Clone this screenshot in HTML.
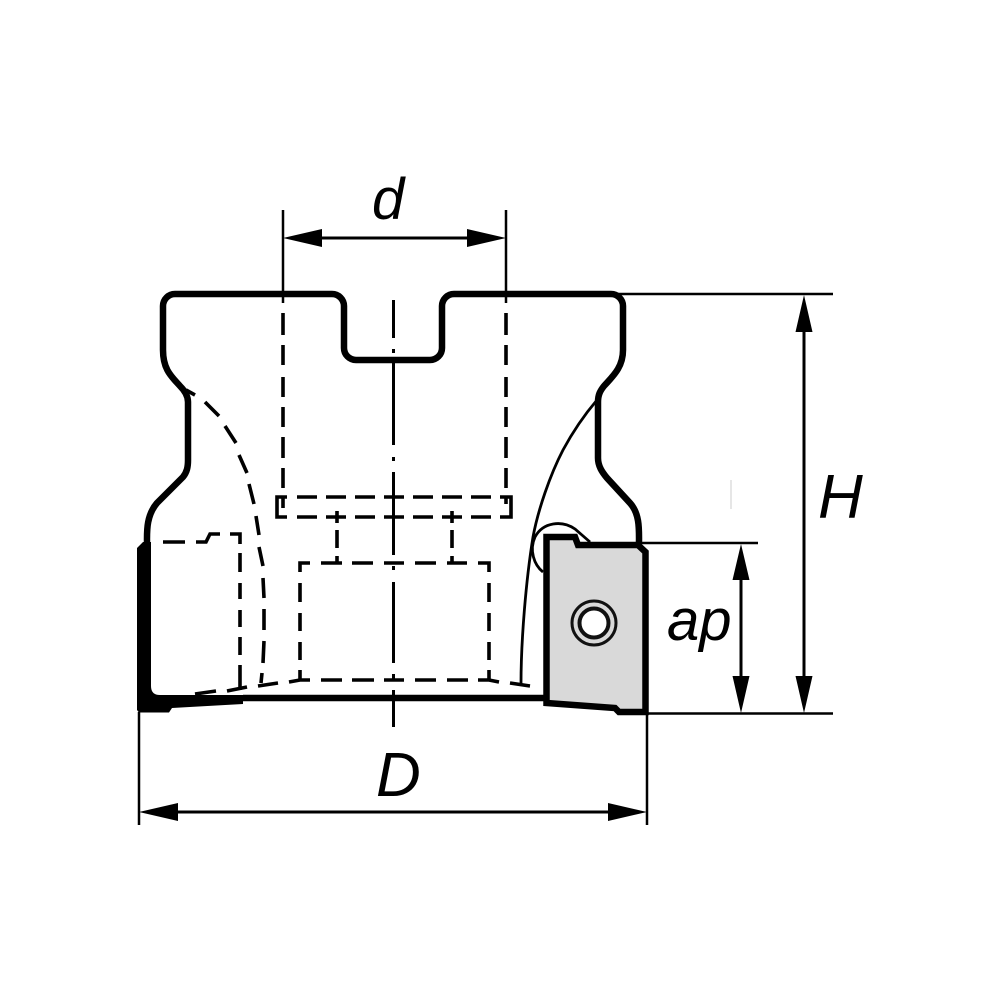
<!DOCTYPE html>
<html><head><meta charset="utf-8"><style>
html,body{margin:0;padding:0;background:#fff}
svg{display:block}
text{font-family:"Liberation Sans",sans-serif;font-style:italic;fill:#000}
</style></head><body>
<svg width="1000" height="1000" viewBox="0 0 1000 1000" xmlns="http://www.w3.org/2000/svg">
<rect width="1000" height="1000" fill="#fff"/>
<!-- insert -->
<path d="M546.500 537H575L578 545H638L645.500 552V712H619L615 708L546.500 703Z" fill="#d9d9d9" stroke="#000" stroke-width="6.500" stroke-linejoin="miter"/>
<circle cx="594" cy="623" r="22" fill="none" stroke="#111" stroke-width="3"/>
<circle cx="594" cy="623" r="14.500" fill="#fff" stroke="#111" stroke-width="4"/>
<!-- outline -->
<g fill="none" stroke="#000" stroke-width="6.500" stroke-linecap="round" stroke-linejoin="round">
<path d="M147 543C147 532 146 516 157 503L183 477C187 472 188 467 188 460V402C188 396 185 391 180 386C172 377 163 370 163 350V306A12 12 0 0 1 175 294H332A12 12 0 0 1 344 306V348A12 12 0 0 0 356 360H430A12 12 0 0 0 442 348V306A12 12 0 0 1 454 294H611A12 12 0 0 1 623 306V350C623 368 612 377 604 386C600 391 598 395 598 402V458C598 466 602 472 607 478L630 503C640 514 639 530 639 543"/>
<path d="M243 698H545" stroke-linecap="butt"/>
</g>
<!-- left black insert -->
<path d="M137 548L143 542H151V686Q151 695 160 695H243V704L172 708L169 712.500H139L137 710Z" fill="#000"/>
<!-- thin curves -->
<g fill="none" stroke="#000" stroke-width="2.800">
<path d="M597 400C580 420 570 437 563 450C550 475 538 510 533 537C526 580 521 640 521 684"/>
<path d="M543 572C534 565 529 550 535 537C543 522 562 520 575 529L590 542"/>
</g>
<!-- dashed -->
<g fill="none" stroke="#000" stroke-width="3.600">
<path d="M283 313V335M283 345V365M283 377V397M283 407V427M283 437V458M283 468V488M283 498V508"/>
<path d="M506 313V335M506 345V365M506 377V397M506 407V427M506 437V458M506 468V488M506 498V504"/>
<path d="M287 497H277V517H287M297 497H317M326 497H346M355 497H375M384 497H404M413 497H433M442 497H462M471 497H491M500 497H511V517H500M297 517H317M326 517H346M355 517H375M384 517H404M413 517H433M442 517H462M471 517H491"/>
<path d="M337 511V523M337 530V548M337 556V563M452 511V523M452 530V548M452 556V563"/>
<path d="M310 563H300V572M300 583V602M300 613V631M300 642V660M300 670V680M321 563H342M352 563H373M384 563H404M415 563H436M447 563H467M478 563H489V572M489 583V602M489 613V631M489 642V660M489 670V680"/>
<path d="M289 682L300 680H310M321 680H342M352 680H374M384 680H404M415 680H436M447 680H468M478 680H489L499 682M510 683L530 686"/>
<path d="M163 542H185M196 542H206L210 534H220M230 534H240V544M240 553V572M240 583V599M240 610V627M240 637V655M240 665V690"/>
<path d="M195 694L216 691M227 691L247 687M258 686L278 683"/>
<path d="M186 390L195 395M205 402L219 416M225 426L236 443M239 455L247 473M249 484L254 504M256 516L259 535M259 547L263 566M263 578L264 598M264 609V630M264 641L263 663M262 673L261 683"/>
</g>
<!-- center line -->
<path d="M393.500 300V338M393.500 349V353M393.500 363V445M393.500 457V461M393.500 472V555M393.500 566V570M393.500 582V663M393.500 674V680M393.500 690V727" fill="none" stroke="#000" stroke-width="3"/>
<!-- extension lines -->
<g fill="none" stroke="#000" stroke-width="2.500">
<path d="M283 210V303M506 210V303M613 294H833M640 543H758M646 713.500H833M139 712V825M647 712V825"/>
</g>
<path d="M731 480V509" stroke="#ccc" stroke-width="1"/>
<!-- dimension lines -->
<g fill="none" stroke="#000" stroke-width="3">
<path d="M300 238H490M160 812H625M741 570V690M804 320V690"/>
</g>
<g fill="#000">
<path d="M283 238L322 229V247ZM506 238L467 229V247Z"/>
<path d="M139 812L178 803V821ZM647 812L608 803V821Z"/>
<path d="M741 544L732.500 580H749.500ZM741 713L732.500 676H749.500Z"/>
<path d="M804 295L795.500 332H812.500ZM804 713L795.500 676H812.500Z"/>
</g>
<text x="372" y="219" font-size="58">d</text>
<text x="818" y="518" font-size="62">H</text>
<text x="667" y="640" font-size="58">ap</text>
<text x="376" y="796" font-size="62">D</text>
</svg>
</body></html>
